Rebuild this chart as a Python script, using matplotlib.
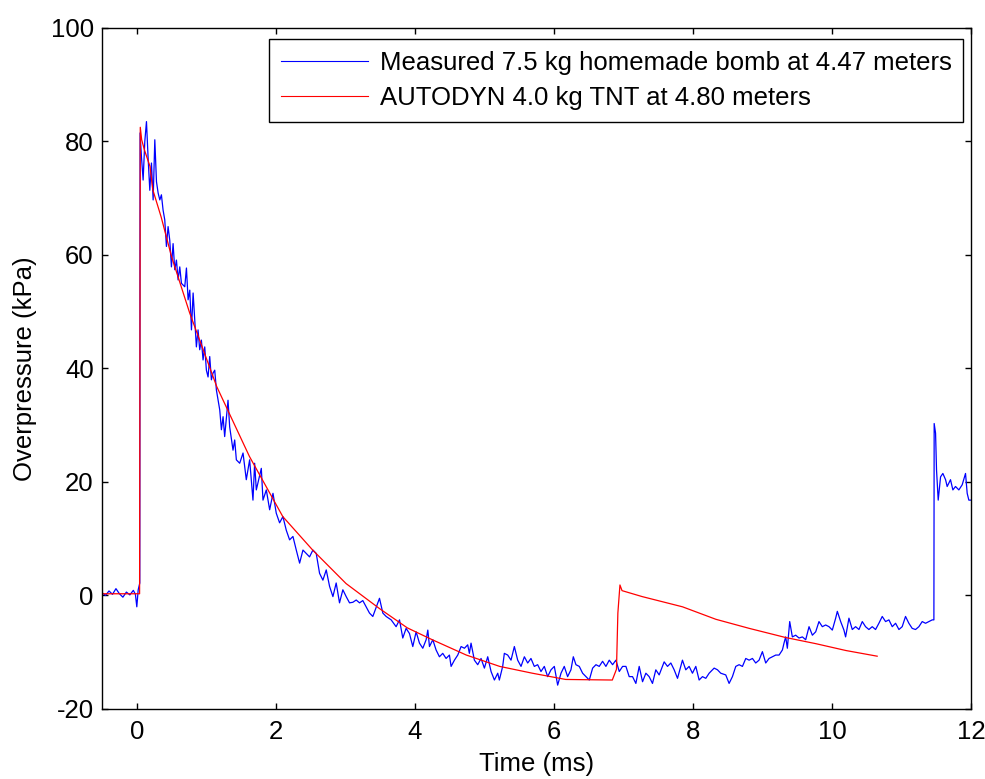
import matplotlib
matplotlib.use("Agg")
import matplotlib.pyplot as plt

# AUTODYN simulation (red)
sim_t = [-0.5, 0.04, 0.05, 0.07, 0.11, 0.19, 0.23, 0.35, 0.50, 0.76, 1.15, 1.62, 2.10, 2.53,
         3.01, 3.49, 3.89, 4.25, 4.74, 5.22, 5.69, 6.17, 6.84, 6.90, 6.92, 6.95, 6.98, 7.27,
         7.85, 8.33, 8.81, 9.33, 9.77, 10.2, 10.65]
sim_p = [0.3, 0.3, 82.5, 80.3, 78.5, 75.6, 71.5, 66.7, 59.7, 49.8, 36.8, 24.5, 13.9, 8.0,
         2.1, -2.3, -5.7, -7.8, -10.5, -12.5, -13.7, -14.8, -14.9, -13.0, -3.1, 1.85, 0.85, -0.2,
         -2.0, -4.2, -5.8, -7.4, -8.5, -9.7, -10.7]

# measured trace (blue)
meas_t = [-0.50, -0.45, -0.40, -0.35, -0.30, -0.25, -0.20, -0.15, -0.10, -0.05, -0.02, 0.00, 0.02, 0.043,
          0.047, 0.067, 0.091, 0.115, 0.139, 0.163, 0.187, 0.211, 0.235, 0.259, 0.283, 0.307, 0.331,
          0.354, 0.378, 0.402, 0.426, 0.450, 0.474, 0.498, 0.522, 0.546, 0.570, 0.594, 0.618, 0.642,
          0.690, 0.714, 0.738, 0.762, 0.786, 0.810, 0.833, 0.857, 0.881, 0.905, 0.929, 0.953, 0.977,
          1.001, 1.025, 1.049, 1.073, 1.097, 1.121, 1.145,
          1.193, 1.217, 1.241, 1.264, 1.312, 1.336, 1.384, 1.408, 1.432, 1.480, 1.528, 1.575, 1.623,
          1.671, 1.695, 1.719, 1.791, 1.815, 1.863, 1.911, 1.959, 2.006, 2.054, 2.102, 2.150, 2.198,
          2.246, 2.294, 2.342, 2.390, 2.437, 2.485, 2.533, 2.581, 2.629, 2.677, 2.725, 2.773, 2.821,
          2.868, 2.916, 2.964, 3.012, 3.060, 3.108, 3.156, 3.204, 3.251, 3.299, 3.347, 3.395, 3.491,
          3.539, 3.587, 3.659, 3.730,
          3.779, 3.826, 3.874, 3.922, 3.970, 4.018, 4.066, 4.114, 4.162, 4.186, 4.210, 4.258, 4.305,
          4.353, 4.401, 4.449, 4.497, 4.521, 4.569, 4.617, 4.665, 4.713, 4.760, 4.784, 4.808, 4.856,
          4.904, 4.952, 5.000, 5.048, 5.096, 5.144, 5.192, 5.215, 5.263, 5.287, 5.335, 5.383, 5.431,
          5.479, 5.527, 5.575, 5.623, 5.670, 5.718, 5.766, 5.814, 5.862, 5.910, 5.958, 6.006, 6.054,
          6.102, 6.149, 6.197, 6.245, 6.279, 6.317, 6.365, 6.413, 6.461, 6.509, 6.557, 6.605, 6.652,
          6.700, 6.748, 6.796, 6.844, 6.892, 6.940, 6.988, 7.036, 7.083, 7.131, 7.179, 7.227, 7.275,
          7.323,
          7.370, 7.418, 7.466, 7.514, 7.586, 7.634, 7.682, 7.730, 7.778, 7.849, 7.897, 7.945, 7.993,
          8.041, 8.089, 8.137, 8.185, 8.233, 8.305, 8.353, 8.400, 8.472, 8.520, 8.568, 8.616, 8.664,
          8.712, 8.760, 8.808, 8.856, 8.903, 8.951, 8.999, 9.047, 9.095, 9.143, 9.191, 9.239, 9.287,
          9.310, 9.334, 9.358, 9.392, 9.430, 9.478, 9.526, 9.574, 9.622, 9.670, 9.718, 9.766, 9.813,
          9.861, 9.909, 9.957, 10.005, 10.053, 10.077, 10.125, 10.172, 10.196,
          10.244, 10.292, 10.340, 10.388, 10.436, 10.483, 10.531, 10.579, 10.627, 10.675, 10.723,
          10.771, 10.819, 10.867, 10.915, 10.963, 11.010, 11.058, 11.106, 11.154, 11.202, 11.250,
          11.298, 11.346, 11.394, 11.442, 11.466, 11.470, 11.490, 11.504, 11.528, 11.562, 11.595,
          11.634, 11.657, 11.705, 11.739, 11.777, 11.825, 11.873, 11.921, 11.945, 11.969, 12.017]
meas_p = [0.5, 0.0, 0.8, 0.2, 1.2, 0.3, -0.3, 0.6, 0.1, 0.9, 0.2, -2.0, 1.0, 2.2,
          81.5, 77.3, 73.2, 80.0, 83.5, 77.0, 71.4, 76.2, 69.7, 80.3, 72.9, 70.9, 69.7,
          70.6, 67.9, 66.2, 61.5, 65.0, 62.6, 57.9, 62.0, 57.4, 59.1, 55.6, 57.9, 55.0,
          54.4, 57.7, 52.1, 53.8, 46.8, 53.3, 48.5, 43.8, 46.8, 43.3, 45.0, 41.5, 43.8,
          39.7, 38.5, 42.1, 38.0, 39.2, 39.7, 36.2,
          32.7, 29.2, 31.5, 28.0, 34.4, 29.7, 25.6, 27.4, 23.9, 23.3, 25.1, 20.4, 23.9,
          16.8, 23.3, 18.6, 22.4, 16.8, 18.6, 15.1, 18.0, 14.5, 12.8, 13.9, 11.5, 9.8,
          10.4, 8.0, 5.7, 8.0, 7.4, 6.8, 8.0, 7.4, 3.9, 2.7, 4.5, 1.6, -0.2,
          2.2, -1.3, 1.0, -0.2, -1.3, -1.2, -0.8, -1.3, -0.9, -2.0, -3.1, -3.7, -0.5,
          -3.1, -3.7, -4.3, -5.5,
          -4.3, -7.5, -5.8, -6.7, -9.0, -6.4, -8.4, -9.3, -7.8, -6.1, -9.0, -7.8, -9.6,
          -10.8, -10.2, -11.1, -10.5, -12.5, -11.4, -10.5, -9.0, -9.3, -8.7, -10.2, -8.4, -11.4,
          -12.2, -11.1, -12.8, -10.8, -13.4, -14.9, -13.7, -14.9, -12.5, -10.2, -10.5, -11.4, -9.0,
          -11.4, -12.5, -10.8, -11.9, -11.1, -12.5, -12.2, -13.4, -12.5, -14.3, -13.1, -12.5, -15.8,
          -13.7, -12.5, -14.3, -13.1, -10.8, -12.2, -12.5, -13.7, -14.3, -14.9, -12.8, -12.2, -12.5,
          -11.6, -12.5, -11.4, -12.2, -11.4, -13.4, -12.5, -12.5, -14.3, -14.3, -15.5, -12.5, -15.2,
          -13.7,
          -14.3, -15.5, -13.1, -14.0, -11.7, -12.5, -11.9, -13.1, -14.6, -11.4, -13.1, -12.5, -13.7,
          -12.5, -14.9, -14.3, -14.6, -13.7, -12.8, -13.1, -13.7, -14.0, -15.5, -14.3, -12.5, -12.2,
          -12.5, -11.1, -11.4, -11.1, -11.9, -11.4, -9.9, -11.9, -11.1, -10.8, -10.5, -10.5, -9.6,
          -8.4, -7.3, -9.3, -4.6, -7.3, -7.0, -7.5, -7.3, -7.8, -5.5, -7.0, -6.4, -4.6,
          -5.5, -5.2, -5.5, -6.1, -4.0, -2.8, -4.6, -6.1, -7.3,
          -4.0, -6.0, -5.5, -6.0, -4.6, -5.5, -6.0, -5.5, -6.0, -4.9, -3.7,
          -4.6, -4.3, -5.5, -4.9, -6.0, -5.5, -3.7, -4.9, -5.8, -6.0, -5.5,
          -4.6, -4.9, -4.6, -4.3, -4.3, 30.3, 28.6, 22.1, 16.8, 20.9, 21.5,
          20.4, 19.2, 20.4, 18.6, 19.2, 18.6, 19.5, 21.5, 18.0, 16.8, 16.8]

x_ticks = [0, 2, 4, 6, 8, 10, 12]
y_ticks = [-20, 0, 20, 40, 60, 80, 100]

plt.rcParams['font.family'] = ['Liberation Sans', 'DejaVu Sans']
plt.rcParams['axes.unicode_minus'] = False
fs = 18.5

fig = plt.figure(figsize=(9.85, 7.79), dpi=100)
ax = fig.add_axes([0.1036, 0.0899, 0.8822, 0.8742])

ax.plot(meas_t, meas_p, color='blue', lw=0.9, label='Measured 7.5 kg homemade bomb at 4.47 meters')
ax.plot(sim_t, sim_p, color='red', lw=0.9, label='AUTODYN 4.0 kg TNT at 4.80 meters')

ax.set_xlim(-0.5, 12)
ax.set_ylim(-20, 100)
ax.set_xticks(x_ticks)
ax.set_yticks(y_ticks)
ax.tick_params(direction='in', top=True, right=True, length=4.5, width=1, labelsize=fs)
ax.tick_params(axis='x', pad=8)
ax.tick_params(axis='y', pad=6)
for s in ax.spines.values():
    s.set_linewidth(1.0)

ax.set_xlabel('Time (ms)', fontsize=fs, labelpad=6)
ax.set_ylabel('Overpressure (kPa)', fontsize=fs, labelpad=10)

leg = ax.legend(loc='upper right', bbox_to_anchor=(0.9908, 0.9834), fontsize=fs, frameon=True,
                fancybox=False, edgecolor='black', framealpha=1, handlelength=3.4,
                handletextpad=0.45, borderpad=0.45, labelspacing=0.45, borderaxespad=0)
leg.get_frame().set_linewidth(1.0)
for line in leg.get_lines():
    line.set_linewidth(0.8)

fig.savefig('out.png', dpi=100)
